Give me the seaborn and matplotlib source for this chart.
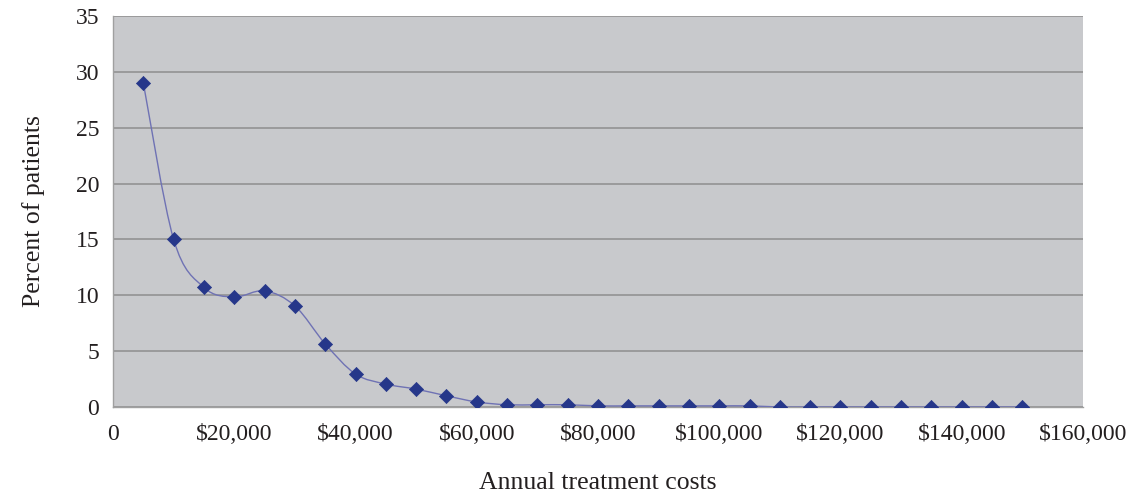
import numpy as np
import pandas as pd
import seaborn as sns
import matplotlib.pyplot as plt
from matplotlib.path import Path
from matplotlib.patches import PathPatch
from matplotlib.ticker import FuncFormatter

# data
costs = [5000, 10000, 15000, 20000, 25000, 30000, 35000, 40000, 45000, 50000,
         55000, 60000, 65000, 70000, 75000, 80000, 85000, 90000, 95000, 100000,
         105000, 110000, 115000, 120000, 125000, 130000, 135000, 140000, 145000, 150000]
percent = [29.0, 15.0, 10.7, 9.85, 10.4, 9.05, 5.65, 2.95, 2.05, 1.6,
           1.0, 0.45, 0.2, 0.2, 0.2, 0.1, 0.1, 0.1, 0.1, 0.1,
           0.1, 0.0, 0.0, 0.0, 0.0, 0.0, 0.0, 0.0, 0.0, 0.0]
x_ticks = [0, 20000, 40000, 60000, 80000, 100000, 120000, 140000, 160000]
y_ticks = [0, 5, 10, 15, 20, 25, 30, 35]

df = pd.DataFrame({'cost': costs, 'pct': percent})

sns.set_style("white")
plt.rcParams['font.family'] = ['Liberation Serif', 'DejaVu Serif']

fig = plt.figure(figsize=(11.37, 4.95), dpi=100)
ax = fig.add_axes([0.0994, 0.1778, 0.8531, 0.7899])
ax.set_facecolor('#c8c9cc')

# smoothed connecting line (Catmull-Rom as cubic Bezier segments, like Excel)
xs = np.array(costs, dtype=float)
ys = np.array(percent, dtype=float)
verts = [(xs[0], ys[0])]
codes = [Path.MOVETO]
n = len(xs)
for i in range(n - 1):
    p0 = np.array([xs[max(i - 1, 0)], ys[max(i - 1, 0)]])
    p1 = np.array([xs[i], ys[i]])
    p2 = np.array([xs[i + 1], ys[i + 1]])
    p3 = np.array([xs[min(i + 2, n - 1)], ys[min(i + 2, n - 1)]])
    c1 = p1 + (p2 - p0) / 6
    c2 = p2 - (p3 - p1) / 6
    verts += [tuple(c1), tuple(c2), tuple(p2)]
    codes += [Path.CURVE4] * 3
ax.add_patch(PathPatch(Path(verts, codes), facecolor='none',
                       edgecolor='#6f72b4', lw=1.0, zorder=3))

sns.scatterplot(data=df, x='cost', y='pct', marker='D', s=52, color='#26378a',
                edgecolor='#26378a', linewidth=0.5, ax=ax, zorder=4)

ax.set_xlim(0, 160000)
ax.set_ylim(0, 35)
ax.set_xticks(x_ticks)
ax.set_yticks(y_ticks)
ax.xaxis.set_major_formatter(FuncFormatter(lambda v, p: '0' if v == 0 else f'${v:,.0f}'))
ax.yaxis.grid(True, color='#8e8e8e', lw=1.1)
ax.set_axisbelow(True)
ax.tick_params(axis='both', direction='out', length=6, color='#a0a0a0',
               labelsize=17, labelcolor='#231f20')
ax.tick_params(axis='x', pad=6)
ax.tick_params(axis='y', pad=4)

for side in ['top', 'right']:
    ax.spines[side].set_visible(False)
for side in ['left', 'bottom']:
    ax.spines[side].set_color('#a0a0a0')
    ax.spines[side].set_linewidth(1.0)

ax.set_xlabel('Annual treatment costs', fontsize=18.5, color='#231f20', labelpad=20)
ax.set_ylabel('Percent of patients', fontsize=18.5, color='#231f20', labelpad=22)

plt.savefig('out.png', dpi=100)
